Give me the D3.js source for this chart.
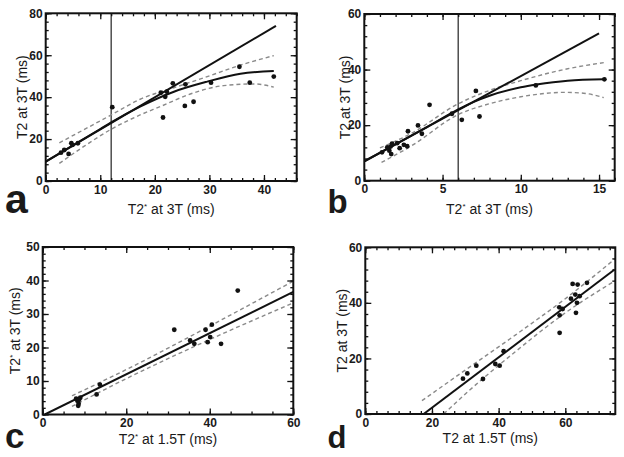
<!DOCTYPE html>
<html><head><meta charset="utf-8">
<script src="https://cdn.jsdelivr.net/npm/d3@7"></script>
<style>
html,body{margin:0;padding:0;background:#fff;}
svg{display:block;}
text{font-family:"Liberation Sans",Arial,sans-serif;fill:#1a1a1a;}
</style></head><body>
<svg id="chart" width="624" height="457"></svg>
<script>
// ---------- Panel a: T2 at 3T vs T2* at 3T ----------
const aPtsX = [2.8, 3.4, 4.2, 4.7, 4.9, 5.9, 12.2, 21.5, 21.1, 21.9, 22.2, 23.3, 25.6, 25.5, 27.1, 30.3, 35.5, 37.4, 41.8];
const aPtsY = [13.5, 14.8, 12.9, 18.0, 17.2, 18.0, 35.2, 30.3, 42.1, 40.2, 42.6, 46.6, 46.1, 35.8, 37.8, 46.9, 54.5, 46.9, 49.8];
const aLinX = [0, 42.2], aLinY = [9.2, 74.0];
const aCurX = [0, 5, 10, 12, 17.3, 23.5, 29.6, 35.7, 41.8];
const aCurY = [9.2, 17.0, 24.8, 28.0, 35.5, 42.6, 47.4, 51.2, 52.5];
const aUpX = [2.5, 7, 12, 17.3, 23.5, 29.6, 35.7, 41.8];
const aUpY = [18.2, 24.5, 31.5, 39.0, 44.5, 49.8, 55.3, 59.8];
const aLoX = [2.5, 7, 12, 17.3, 21, 26.5, 32.6, 38.2, 41.8];
const aLoY = [8.4, 16.5, 24.7, 31.5, 35.5, 41.5, 45.5, 46.3, 44.8];
const aVLine = 12;
const aXTicks = [0, 10, 20, 30, 40], aYTicks = [0, 20, 40, 60, 80];

// ---------- Panel b ----------
const bPtsX = [15.34, 10.96, 7.13, 7.36, 6.23, 4.17, 5.6, 3.43, 3.68, 2.79, 2.74, 2.53, 2.26, 1.68, 1.6, 1.72, 1.47, 1.77, 1.13, 2.1];
const bPtsY = [36.5, 34.3, 32.3, 23.1, 21.9, 27.3, 24.1, 19.9, 16.9, 17.8, 12.4, 12.9, 11.7, 12.3, 10.8, 9.6, 12.0, 13.3, 10.2, 13.5];
const bLinX = [0, 15], bLinY = [7.0, 53.0];
const bCurX = [0, 2, 4, 6, 7, 8, 10, 11, 13, 15.3];
const bCurY = [7.0, 13.1, 19.3, 25.7, 28.4, 30.6, 33.6, 34.6, 36.0, 36.5];
const bUpX = [1, 3, 6, 8, 10, 13, 15.3];
const bUpY = [11.8, 17.0, 27.7, 32.5, 36.0, 40.3, 42.5];
const bLoX = [1.1, 3, 6, 8, 10, 12.8, 14, 15.3];
const bLoY = [6.6, 12.5, 23.8, 27.7, 30.2, 31.8, 31.5, 29.9];
const bVLine = 6;
const bXTicks = [0, 5, 10, 15], bYTicks = [0, 20, 40, 60];

// ---------- Panel c ----------
const cPtsX = [46.7, 31.5, 39.0, 40.5, 35.3, 36.3, 39.5, 40.1, 42.7, 12.9, 13.7, 8.0, 8.3, 8.6, 8.5, 9.0, 8.7];
const cPtsY = [37.0, 25.3, 25.3, 26.8, 22.1, 21.1, 21.6, 23.1, 21.1, 6.0, 8.9, 4.7, 4.1, 3.2, 2.6, 5.0, 4.4];
const cLinX = [0.5, 60], cLinY = [0, 36.6];
const cUpX = [7, 20, 40, 60], cUpY = [5.6, 13.4, 26.4, 39.8];
const cLoX = [7, 20, 40, 60], cLoY = [2.4, 10.7, 22.4, 33.3];
const cXTicks = [0, 20, 40, 60], cYTicks = [0, 10, 20, 30, 40, 50];

// ---------- Panel d ----------
const dPtsX = [29.3, 30.6, 33.3, 35.3, 39.0, 40.3, 41.5, 58.3, 58.3, 58.2, 59.2, 61.7, 62.2, 63.7, 66.5, 63.0, 64.3, 63.5, 63.2];
const dPtsY = [12.7, 14.6, 17.4, 12.6, 18.0, 17.4, 22.6, 29.2, 35.5, 38.4, 37.8, 41.5, 46.8, 46.6, 47.2, 43.0, 42.4, 40.0, 36.4];
const dLinX = [17.5, 74.8], dLinY = [0, 52.0];
const dUpX = [17, 30, 45, 60, 75], dUpY = [4.8, 15.8, 28.4, 41.5, 55.9];
const dLoX = [23.5, 30, 45, 60, 75], dLoY = [0, 7.2, 22.4, 36.4, 48.0];
const dXTicks = [0, 20, 40, 60], dYTicks = [0, 20, 40, 60];

const zip = (xs, ys) => xs.map((x, i) => [x, ys[i]]);

const panels = [
  {id: "a", box: [45.7, 296.7, 13.3, 181], xd: [0, 46], yd: [0, 80], xt: aXTicks, yt: aYTicks, xm: 2, ym: 4,
   pts: zip(aPtsX, aPtsY), lin: zip(aLinX, aLinY), cur: zip(aCurX, aCurY), up: zip(aUpX, aUpY), lo: zip(aLoX, aLoY), vline: aVLine,
   xTitle: ["T2", "*", " at 3T (ms)"], yTitle: ["T2 at 3T (ms)"], letter: {t: "a", x: 5, y: 213, s: 41},
   xTitleY: 213.5, yTitleX: 26.5},
  {id: "b", box: [364.3, 614.7, 14, 180.7], xd: [0, 16], yd: [0, 60], xt: bXTicks, yt: bYTicks, xm: 1, ym: 4,
   pts: zip(bPtsX, bPtsY), lin: zip(bLinX, bLinY), cur: zip(bCurX, bCurY), up: zip(bUpX, bUpY), lo: zip(bLoX, bLoY), vline: bVLine,
   xTitle: ["T2", "*", " at 3T (ms)"], yTitle: ["T2 at 3T (ms)"], letter: {t: "b", x: 327.5, y: 213, s: 33},
   xTitleY: 213.5, yTitleX: 350},
  {id: "c", box: [42.7, 293.3, 247, 414.5], xd: [0, 60], yd: [0, 50], xt: cXTicks, yt: cYTicks, xm: 5, ym: 2,
   pts: zip(cPtsX, cPtsY), lin: zip(cLinX, cLinY), cur: null, up: zip(cUpX, cUpY), lo: zip(cLoX, cLoY), vline: null,
   xTitle: ["T2", "*", " at 1.5T (ms)"], yTitle: ["T2", "*", " at 3T (ms)"], letter: {t: "c", x: 5, y: 447.5, s: 35},
   xTitleY: 443.5, yTitleX: 19.5},
  {id: "d", box: [365.3, 615.3, 247.3, 414], xd: [0, 75], yd: [0, 60], xt: dXTicks, yt: dYTicks, xm: 10/3, ym: 4,
   pts: zip(dPtsX, dPtsY), lin: zip(dLinX, dLinY), cur: null, up: zip(dUpX, dUpY), lo: zip(dLoX, dLoY), vline: null,
   xTitle: ["T2 at 1.5T (ms)"], yTitle: ["T2 at 3T (ms)"], letter: {t: "d", x: 327.5, y: 448, s: 31},
   xTitleY: 443, yTitleX: 346.5}
];

const svg = d3.select("#chart");

function minorVals(domain, step) {
  const out = [];
  for (let v = domain[0]; v <= domain[1] + 1e-9; v += step) out.push(+v.toFixed(6));
  return out;
}

function addTitle(g, parts) {
  parts.forEach((p, i) => {
    if (p === "*") {
      g.append("tspan").attr("font-size", 8).attr("dy", -5).text("*");
    } else {
      const ts = g.append("tspan").text(p);
      if (i > 0 && parts[i - 1] === "*") ts.attr("dy", 5);
    }
  });
}

panels.forEach(P => {
  const [L, R, T, B] = P.box;
  const x = d3.scaleLinear().domain(P.xd).range([L, R]);
  const y = d3.scaleLinear().domain(P.yd).range([B, T]);
  const g = svg.append("g");

  g.append("clipPath").attr("id", "clip" + P.id)
    .append("rect").attr("x", L).attr("y", T).attr("width", R - L).attr("height", B - T);

  const plot = g.append("g").attr("clip-path", `url(#clip${P.id})`);
  const lineGen = d3.line().x(d => x(d[0])).y(d => y(d[1]));
  const curveGen = d3.line().x(d => x(d[0])).y(d => y(d[1])).curve(d3.curveMonotoneX);

  if (P.vline !== null) {
    plot.append("line").attr("x1", x(P.vline)).attr("x2", x(P.vline)).attr("y1", T).attr("y2", B)
      .attr("stroke", "#333").attr("stroke-width", 1.3);
  }
  [P.up, P.lo].forEach(band => {
    plot.append("path").datum(band).attr("d", curveGen).attr("fill", "none")
      .attr("stroke", "#8a8a8a").attr("stroke-width", 1.4).attr("stroke-dasharray", "4,3");
  });
  plot.append("path").datum(P.lin).attr("d", lineGen).attr("fill", "none")
    .attr("stroke", "#111").attr("stroke-width", 2);
  if (P.cur) {
    plot.append("path").datum(P.cur).attr("d", curveGen).attr("fill", "none")
      .attr("stroke", "#111").attr("stroke-width", 2);
  }
  g.append("g").selectAll("circle").data(P.pts).join("circle")
    .attr("cx", d => x(d[0])).attr("cy", d => y(d[1])).attr("r", 2.4).attr("fill", "#111");

  // axes: major + minor ticks on all four sides, pointing inward
  const mx = minorVals(P.xd, P.xm), my = minorVals(P.yd, P.ym);
  const style = sel => {
    sel.select(".domain").remove();
    sel.selectAll("line").attr("stroke", "#111").attr("stroke-width", 1.3);
  };
  g.append("g").attr("transform", `translate(0,${B})`)
    .call(d3.axisBottom(x).tickValues(mx).tickSize(-3).tickFormat("")).call(style);
  g.append("g").attr("transform", `translate(0,${T})`)
    .call(d3.axisTop(x).tickValues(mx).tickSize(-3).tickFormat("")).call(style);
  g.append("g").attr("transform", `translate(${L},0)`)
    .call(d3.axisLeft(y).tickValues(my).tickSize(-3).tickFormat("")).call(style);
  g.append("g").attr("transform", `translate(${R},0)`)
    .call(d3.axisRight(y).tickValues(my).tickSize(-3).tickFormat("")).call(style);

  const xb = g.append("g").attr("transform", `translate(0,${B})`)
    .call(d3.axisBottom(x).tickValues(P.xt).tickSize(-6).tickPadding(4).tickFormat(d3.format("d"))).call(style);
  g.append("g").attr("transform", `translate(0,${T})`)
    .call(d3.axisTop(x).tickValues(P.xt).tickSize(-6).tickFormat("")).call(style);
  const yl = g.append("g").attr("transform", `translate(${L},0)`)
    .call(d3.axisLeft(y).tickValues(P.yt).tickSize(-6).tickPadding(3).tickFormat(d3.format("d"))).call(style);
  g.append("g").attr("transform", `translate(${R},0)`)
    .call(d3.axisRight(y).tickValues(P.yt).tickSize(-6).tickFormat("")).call(style);
  [xb, yl].forEach(a => a.selectAll("text").attr("font-family", '"Liberation Sans",Arial,sans-serif')
    .attr("font-size", 12).attr("font-weight", "bold").attr("fill", "#1a1a1a"));

  // frame
  g.append("rect").attr("x", L).attr("y", T).attr("width", R - L).attr("height", B - T)
    .attr("fill", "none").attr("stroke", "#111").attr("stroke-width", 2);

  // titles
  const xt = g.append("text").attr("x", (L + R) / 2).attr("y", P.xTitleY)
    .attr("text-anchor", "middle").attr("font-size", 14);
  addTitle(xt, P.xTitle);
  const yt = g.append("text").attr("transform", `translate(${P.yTitleX},${(T + B) / 2}) rotate(-90)`)
    .attr("text-anchor", "middle").attr("font-size", 14);
  addTitle(yt, P.yTitle);

  g.append("text").attr("x", P.letter.x).attr("y", P.letter.y)
    .attr("font-size", P.letter.s).attr("font-weight", "bold").attr("fill", "#000").text(P.letter.t);
});
</script>
</body></html>
